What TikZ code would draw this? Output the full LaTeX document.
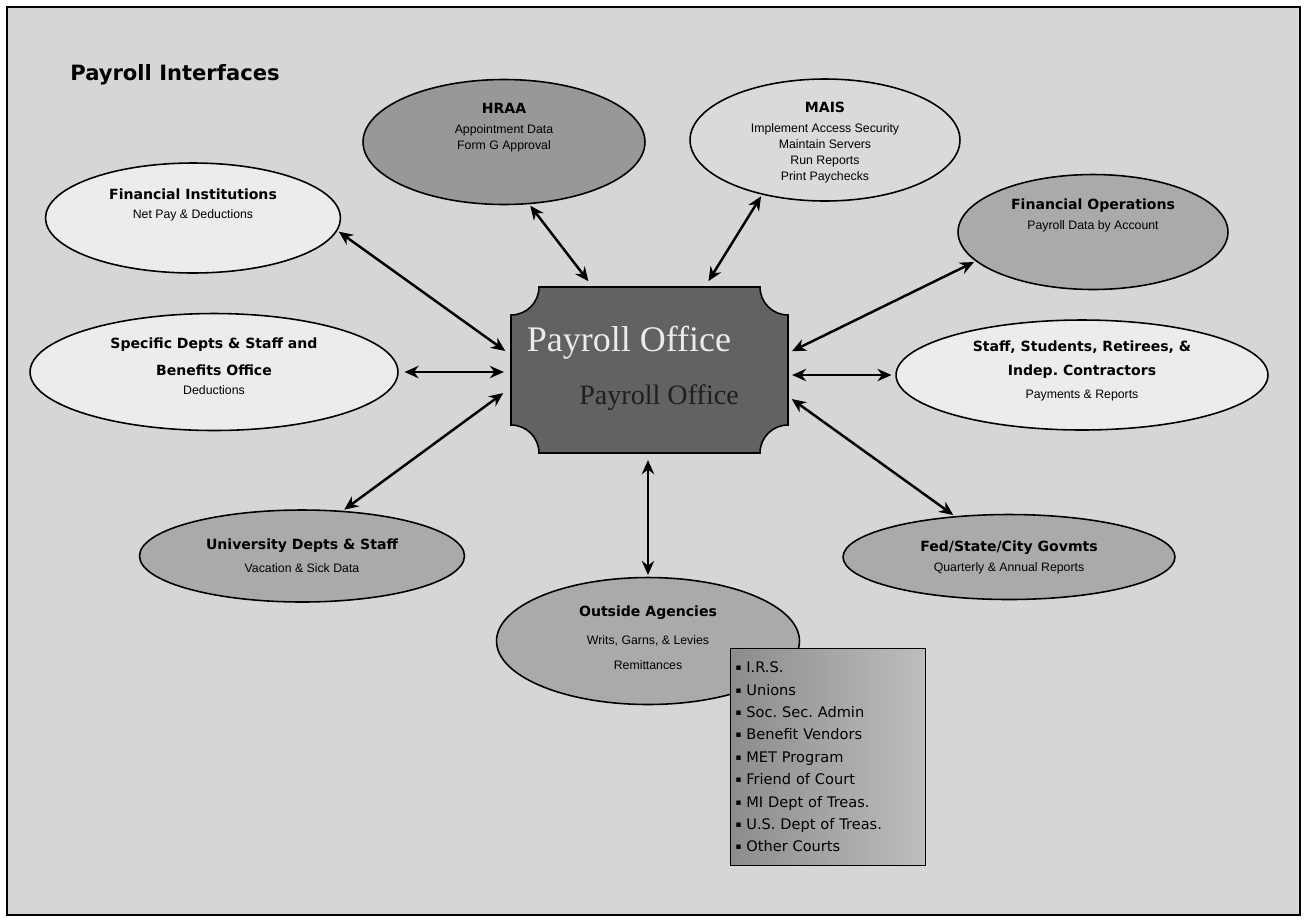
\documentclass[tikz,border=0pt]{standalone}
\usepackage{fontspec}
\setmainfont{Liberation Sans}
\newfontfamily\hdfont{DejaVu Sans}
\newfontfamily\pofont{Liberation Serif}
\usetikzlibrary{shapes.geometric,arrows.meta,calc}
\frenchspacing

\definecolor{pibg}{RGB}{214,214,214}
\definecolor{pilight}{RGB}{236,236,236}
\definecolor{pimais}{RGB}{218,218,218}
\definecolor{pidark}{RGB}{152,152,152}
\definecolor{pigrey}{RGB}{170,170,170}
\definecolor{pioffice}{RGB}{98,98,98}
\definecolor{piboxl}{RGB}{140,140,140}
\definecolor{piboxr}{RGB}{190,190,190}

\newcommand{\hd}[1]{{\hdfont\bfseries\fontsize{8}{9}\selectfont #1}}
\newcommand{\itm}{{\fontsize{5}{5}\selectfont\raisebox{1.2pt}{▪}}\ }

\begin{document}
\begin{tikzpicture}[x=0.02cm, y=-0.02cm,
    oval/.style={ellipse, draw=black, line width=0.9pt, inner sep=0pt},
    caption/.style={align=center, inner sep=0pt, font=\fontsize{7}{9}\selectfont},
    link/.style={{Stealth[length=8pt,width=7pt]}-{Stealth[length=8pt,width=7pt]},
      line width=1.4pt, shorten <=1pt, shorten >=1pt}]
  \useasboundingbox (0,0) rectangle (1305,921);
  \draw[fill=pibg, line width=0.6pt] (7,7) rectangle (1300,915);
  \node[font=\hdfont\bfseries\fontsize{12}{14}\selectfont] (title) at (175,75) {Payroll Interfaces};

  \node[oval, fill=pidark, minimum width=5.64cm, minimum height=2.5cm,
    label={[caption, yshift=8pt]center:{\hd{HRAA}\\[2.3pt]Appointment Data\\Form G Approval}}] (hraa) at (504,142) {};
  \node[oval, fill=pimais, minimum width=5.4cm, minimum height=2.44cm,
    label={[caption, yshift=-1.5pt]center:{\hd{MAIS}\\[2.3pt]Implement Access Security\\Maintain Servers\\Run Reports\\Print Paychecks}}] (mais) at (825,140) {};
  \node[oval, fill=pilight, minimum width=5.9cm, minimum height=2.2cm,
    label={[caption, yshift=7.4pt]center:{\hd{Financial Institutions}\\[2.3pt]Net Pay \& Deductions}}] (fininst) at (193,218) {};
  \node[oval, fill=pigrey, minimum width=5.4cm, minimum height=2.3cm,
    label={[caption, yshift=9.6pt]center:{\hd{Financial Operations}\\[2.3pt]Payroll Data by Account}}] (finops) at (1093,232) {};
  \node[oval, fill=pilight, minimum width=7.36cm, minimum height=2.34cm,
    label={[caption, yshift=3.4pt]center:{\hd{Specific Depts \& Staff and}\\[6.3pt]\hd{Benefits Office}\\[1.8pt]Deductions}}] (spec) at (214,372) {};
  \node[oval, fill=pilight, minimum width=7.44cm, minimum height=2.2cm,
    label={[caption, yshift=2.3pt]center:{\hd{Staff, Students, Retirees, \&}\\[4.6pt]\hd{Indep. Contractors}\\[4pt]Payments \& Reports}}] (staff) at (1082,375) {};
  \node[oval, fill=pigrey, minimum width=6.5cm, minimum height=1.84cm,
    label={[caption]center:{\hd{University Depts \& Staff}\\[4pt]Vacation \& Sick Data}}] (univ) at (302,556) {};
  \node[oval, fill=pigrey, minimum width=6.64cm, minimum height=1.7cm,
    label={[caption]center:{\hd{Fed/State/City Govmts}\\[2.3pt]Quarterly \& Annual Reports}}] (fed) at (1009,557) {};
  \node[oval, fill=pigrey, minimum width=6.06cm, minimum height=2.54cm,
    label={[caption, yshift=1.7pt]center:{\hd{Outside Agencies}\\[6.9pt]Writs, Garns, \& Levies\\[5.2pt]Remittances}}] (outside) at (648,641) {};

  \filldraw[fill=pioffice, line width=0.9pt] (539,287) -- (760,287)
    .. controls (760,302.5) and (772.5,315) .. (788,315) -- (788,425)
    .. controls (772.5,425) and (760,437.5) .. (760,453) -- (539,453)
    .. controls (539,437.5) and (526.5,425) .. (511,425) -- (511,315)
    .. controls (526.5,315) and (539,302.5) .. (539,287) -- cycle;
  \node[minimum width=5.54cm, minimum height=3.32cm, inner sep=0pt] (po) at (649.5,370) {};
  \node[font=\pofont\fontsize{20.5}{22}\selectfont, text=white!92!black] (po-a) at (629,343) {Payroll Office};
  \node[font=\pofont\fontsize{16}{18}\selectfont, text=black!88] (po-b) at (659,398) {Payroll Office};

  \node[draw, line width=0.6pt, left color=piboxl, right color=piboxr, anchor=north west,
    minimum width=3.9cm, minimum height=4.34cm, text width=3.7cm, inner xsep=1mm,
    align=left, font=\hdfont\fontsize{8.3}{12.75}\selectfont] (agencies) at (730,648)
    {\itm I.R.S.\\\itm Unions\\\itm Soc. Sec. Admin\\\itm Benefit Vendors\\\itm MET Program\\\itm Friend of Court\\\itm MI Dept of Treas.\\\itm U.S. Dept of Treas.\\\itm Other Courts};

  \draw[link] (hraa.-68) -- ($(po.north)+(-60,-4)$);
  \draw[link] (mais.-139) -- ($(po.north)+(58,-4)$);
  \draw[link] (fininst.-5) -- ($(po.west)+(-4,-18)$);
  \draw[link] ($(spec.east)+(4,0)$) -- ($(spec.east -| po.west)+(-5,0)$);
  \draw[link] (univ.48) -- ($(po.west)+(-6,22)$);
  \draw[link] (finops.194) -- ($(po.east)+(2,-18)$);
  \draw[link] ($(staff.west)+(-2,0)$) -- ($(staff.west -| po.east)+(2,0)$);
  \draw[link] (fed.143) -- ($(po.east)+(2,28)$);
  \draw[link] (outside.north) -- ($(outside.north |- po.south)+(0,5)$);
\end{tikzpicture}
\end{document}
